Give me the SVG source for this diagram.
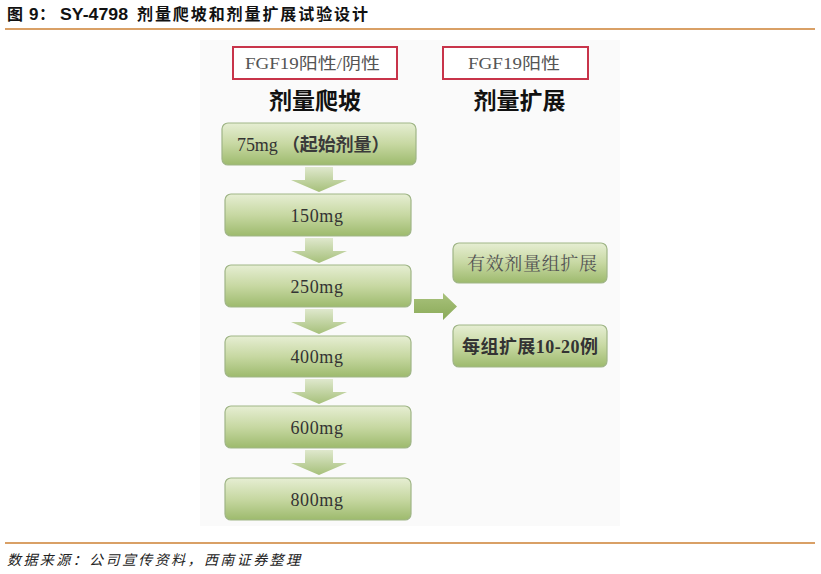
<svg xmlns="http://www.w3.org/2000/svg" width="821" height="574" viewBox="0 0 821 574">
<style>
.box{fill:url(#g);stroke:#9fb586;stroke-width:1.2}
.arr{fill:url(#ga)}
.num{font-family:"Liberation Serif","Noto Serif CJK SC",serif;font-size:18px;letter-spacing:0.6px;fill:#333;text-anchor:middle}
.cjkb{font-family:"Noto Sans CJK SC",sans-serif;font-weight:bold}
.lbl{font-family:"Liberation Serif","Noto Sans CJK SC",serif;font-size:16px;fill:#555;text-anchor:middle}
.head{font-family:"Noto Sans CJK SC",sans-serif;font-weight:bold;font-size:23px;fill:#111;text-anchor:middle}
.red{fill:#fff;stroke:#c8344a;stroke-width:2}
.rule{stroke:#d9a066;stroke-width:2}
</style>
<defs>
<linearGradient id="g" x1="0" y1="0" x2="0" y2="1">
<stop offset="0" stop-color="#e6eed3"/>
<stop offset="0.5" stop-color="#c7d8a2"/>
<stop offset="1" stop-color="#9dba6d"/>
</linearGradient>
<linearGradient id="ga" x1="0" y1="0" x2="0" y2="1">
<stop offset="0" stop-color="#dfe8cd"/>
<stop offset="1" stop-color="#a6c07a"/>
</linearGradient>
<linearGradient id="gr" x1="0" y1="0" x2="0" y2="1">
<stop offset="0" stop-color="#a9c27c"/>
<stop offset="1" stop-color="#8aaa58"/>
</linearGradient>
</defs>
<rect width="821" height="574" fill="#fff"/>
<g font-weight="bold" fill="#111">
<text x="7" y="20" font-family="'Noto Sans CJK SC',sans-serif" font-size="16">图</text>
<text x="29" y="20" font-family="'Liberation Sans',sans-serif" font-size="17">9</text>
<text x="39" y="20" font-family="'Noto Sans CJK SC',sans-serif" font-size="16">：</text>
<text x="60" y="20" font-family="'Liberation Sans',sans-serif" font-size="17" textLength="68" lengthAdjust="spacingAndGlyphs">SY-4798</text>
<text x="137" y="20" font-family="'Noto Sans CJK SC',sans-serif" font-size="16" textLength="231" lengthAdjust="spacing">剂量爬坡和剂量扩展试验设计</text>
</g>
<line class="rule" x1="5" y1="29" x2="815" y2="29"/>
<rect x="200" y="40" width="420" height="486" fill="#fafafa"/>

<g id="connectors">
<path class="arr" d="M305 167 H333 V180 H347 L319 192 L291 180 H305 Z"/>
<path class="arr" d="M305 238 H333 V251 H347 L319 263 L291 251 H305 Z"/>
<path class="arr" d="M305 309 H333 V322 H347 L319 334 L291 322 H305 Z"/>
<path class="arr" d="M305 379 H333 V392 H347 L319 404 L291 392 H305 Z"/>
<path class="arr" d="M305 450 H333 V463 H347 L319 475 L291 463 H305 Z"/>
<path fill="url(#gr)" d="M414 299 H443 V293 L457 306.5 L443 320 V313 H414 Z"/>
</g>

<g id="hdr-left">
<rect class="red" x="233" y="47" width="164" height="32"/>
<text class="lbl" x="312.5" y="69" textLength="135" lengthAdjust="spacingAndGlyphs">FGF19阳性/阴性</text>
<text class="head" x="315" y="109">剂量爬坡</text>
</g>
<g id="hdr-right">
<rect class="red" x="443" y="47" width="145" height="32"/>
<text class="lbl" x="514" y="69" textLength="92" lengthAdjust="spacingAndGlyphs">FGF19阳性</text>
<text class="head" x="519.5" y="109">剂量扩展</text>
</g>

<g id="n75"><rect class="box" x="222" y="123" width="194" height="42" rx="6"/>
<text class="num" x="313.5" y="151" textLength="153" lengthAdjust="spacing">75mg <tspan class="cjkb" fill="#3a3a3a">（起始剂量）</tspan></text></g>
<g id="n150"><rect class="box" x="225" y="194" width="186" height="42" rx="6"/>
<text class="num" x="317" y="222">150mg</text></g>
<g id="n250"><rect class="box" x="225" y="265" width="186" height="42" rx="6"/>
<text class="num" x="317" y="293">250mg</text></g>
<g id="n400"><rect class="box" x="225" y="336" width="186" height="41" rx="6"/>
<text class="num" x="317" y="363">400mg</text></g>
<g id="n600"><rect class="box" x="225" y="406" width="186" height="42" rx="6"/>
<text class="num" x="317" y="434">600mg</text></g>
<g id="n800"><rect class="box" x="225" y="478" width="186" height="42" rx="6"/>
<text class="num" x="317" y="506">800mg</text></g>

<g id="ne1"><rect class="box" x="453" y="243" width="154" height="40" rx="6"/>
<text x="532" y="270" text-anchor="middle" font-family="'Noto Serif CJK SC','Noto Sans CJK SC',serif" font-size="18" fill="#555" textLength="130" lengthAdjust="spacing">有效剂量组扩展</text></g>
<g id="ne2"><rect class="box" x="453" y="325" width="154" height="42" rx="6"/>
<text x="530" y="353" text-anchor="middle" font-family="'Noto Sans CJK SC',sans-serif" font-weight="bold" font-size="18" fill="#333" textLength="136" lengthAdjust="spacing">每组扩展<tspan font-family="'Liberation Serif',serif">10-20</tspan>例</text></g>

<line class="rule" x1="5" y1="543" x2="815" y2="543"/>
<text x="7" y="565" font-family="'Noto Sans CJK SC',sans-serif" font-style="italic" font-size="14" fill="#222" textLength="293" lengthAdjust="spacing">数据来源：公司宣传资料，西南证券整理</text>
</svg>
